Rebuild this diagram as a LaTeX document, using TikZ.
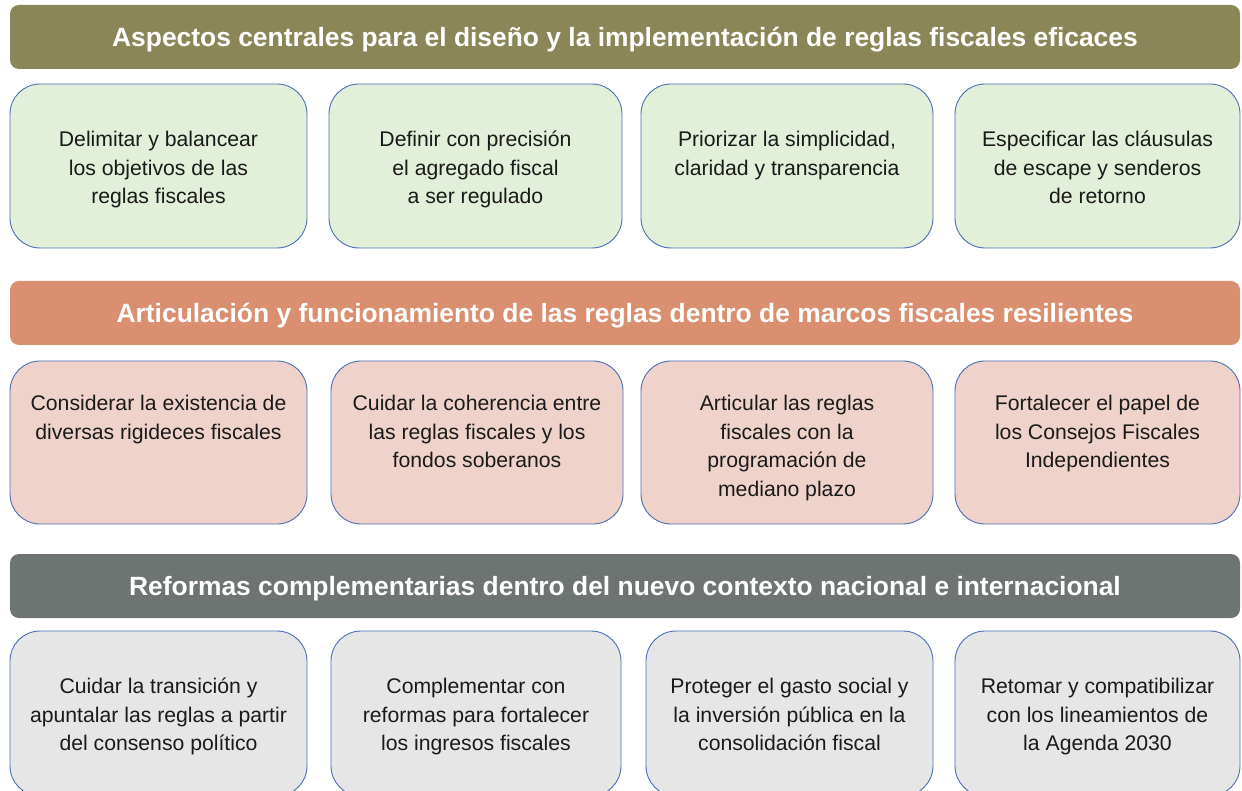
\documentclass[tikz,border=0pt]{standalone}
\usepackage{fontspec}
\setmainfont{Liberation Sans}
\usetikzlibrary{calc}
\definecolor{olive}{HTML}{8A8657}
\definecolor{salmon}{HTML}{DA8F71}
\definecolor{slate}{HTML}{6D7472}
\definecolor{fgreen}{HTML}{E2EFD9}
\definecolor{fpink}{HTML}{EFD3CB}
\definecolor{fgray}{HTML}{E6E6E6}
\definecolor{bblue}{HTML}{4A6FB5}
\definecolor{txtc}{HTML}{1A1A1A}
\newcommand{\topstrut}{\rule{0pt}{22pt}}
\tikzset{
  banner/.style={fill=#1, draw=none, rounded corners=9pt, minimum width=1230pt, minimum height=64pt,
    inner sep=0pt, text=white, font=\fontsize{26.4}{30}\selectfont\bfseries, text height=19pt, text depth=0pt},
  box/.style={fill=#1, draw=bblue, line width=0.9pt, rounded corners=30pt, inner sep=0pt},
  txt/.style={align=center, text=txtc, font=\fontsize{21.2}{28.6}\selectfont, inner sep=0pt, anchor=north}
}
\begin{document}
\begin{tikzpicture}[x=1pt,y=-1pt]
\useasboundingbox (0,0) rectangle (1242,791);
% banners
\node[banner=olive] (h1) at (625,37) {Aspectos centrales para el diseño y la implementación de reglas fiscales eficaces};
\node[banner=salmon] (h2) at (625,313) {Articulación y funcionamiento de las reglas dentro de marcos fiscales resilientes};
\node[banner=slate] (h3) at (625,586) {Reformas complementarias dentro del nuevo contexto nacional e internacional};
% row 1
\node[box=fgreen, minimum width=297pt, minimum height=164pt] (b11) at (158.5,166) {};
\node[box=fgreen, minimum width=293pt, minimum height=164pt] (b12) at (475.5,166) {};
\node[box=fgreen, minimum width=292pt, minimum height=164pt] (b13) at (787,166) {};
\node[box=fgreen, minimum width=285pt, minimum height=164pt] (b14) at (1097.5,166) {};
\node[txt] (t11) at ($(b11.north)+(0,41)$) {\topstrut Delimitar y balancear\\los objetivos de las\\reglas fiscales};
\node[txt] (t12) at ($(b12.north)+(0,41)$) {\topstrut Definir con precisión\\el agregado fiscal\\a ser regulado};
\node[txt] (t13) at ($(b13.north)+(0,41)$) {\topstrut Priorizar la simplicidad,\\claridad y transparencia};
\node[txt] (t14) at ($(b14.north)+(0,41)$) {\topstrut Especificar las cláusulas\\de escape y senderos\\de retorno};
% row 2
\node[box=fpink, minimum width=297pt, minimum height=163pt] (b21) at (158.5,442.5) {};
\node[box=fpink, minimum width=292pt, minimum height=163pt] (b22) at (477,442.5) {};
\node[box=fpink, minimum width=292pt, minimum height=163pt] (b23) at (787,442.5) {};
\node[box=fpink, minimum width=285pt, minimum height=163pt] (b24) at (1097.5,442.5) {};
\node[txt] (t21) at ($(b21.north)+(0,28)$) {\topstrut Considerar la existencia de\\diversas rigideces fiscales};
\node[txt] (t22) at ($(b22.north)+(0,28)$) {\topstrut Cuidar la coherencia entre\\las reglas fiscales y los\\fondos soberanos};
\node[txt] (t23) at ($(b23.north)+(0,28)$) {\topstrut Articular las reglas\\fiscales con la\\programación de\\mediano plazo};
\node[txt] (t24) at ($(b24.north)+(0,28)$) {\topstrut Fortalecer el papel de\\los Consejos Fiscales\\Independientes};
% row 3
\node[box=fgray, minimum width=297pt, minimum height=165pt] (b31) at (158.5,713.5) {};
\node[box=fgray, minimum width=290pt, minimum height=165pt] (b32) at (476,713.5) {};
\node[box=fgray, minimum width=287pt, minimum height=165pt] (b33) at (789.5,713.5) {};
\node[box=fgray, minimum width=285pt, minimum height=165pt] (b34) at (1097.5,713.5) {};
\node[txt] (t31) at ($(b31.north)+(0,41)$) {\topstrut Cuidar la transición y\\apuntalar las reglas a partir\\del consenso político};
\node[txt] (t32) at ($(b32.north)+(0,41)$) {\topstrut Complementar con\\reformas para fortalecer\\los ingresos fiscales};
\node[txt] (t33) at ($(b33.north)+(0,41)$) {\topstrut Proteger el gasto social y\\la inversión pública en la\\consolidación fiscal};
\node[txt] (t34) at ($(b34.north)+(0,41)$) {\topstrut Retomar y compatibilizar\\con los lineamientos de\\la Agenda 2030};
\end{tikzpicture}
\end{document}
